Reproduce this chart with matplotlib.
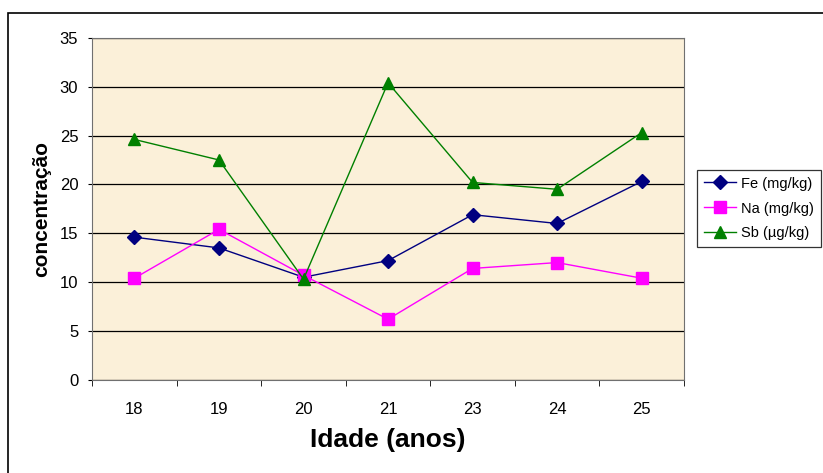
import numpy as np
import matplotlib.pyplot as plt
from matplotlib.patches import Rectangle

plt.rcParams['font.family'] = ['Liberation Sans', 'DejaVu Sans']

idade = ["18", "19", "20", "21", "23", "24", "25"]
fe = [14.6, 13.5, 10.5, 12.2, 16.9, 16.0, 20.3]
na = [10.4, 15.4, 10.7, 6.2, 11.4, 12.0, 10.4]
sb = [24.6, 22.5, 10.3, 30.4, 20.2, 19.5, 25.3]

fig = plt.figure(figsize=(8.23, 4.73), dpi=100)
ax = fig.add_axes([0.112, 0.197, 0.719, 0.723])
ax.set_facecolor("#FBF0D9")

x = np.arange(len(idade))
ax.plot(x, fe, color="#000080", marker="D", markersize=7, lw=1, label="Fe (mg/kg)")
ax.plot(x, na, color="#FF00FF", marker="s", markersize=8, lw=1, label="Na (mg/kg)")
ax.plot(x, sb, color="#008000", marker="^", markersize=9, lw=1, label="Sb (µg/kg)")

ax.set_xlim(-0.5, len(idade) - 0.5)
ax.set_ylim(0, 35)
ax.set_yticks(range(0, 36, 5))
ax.set_xticks(x)
ax.set_xticklabels(idade)
ax.set_xticks(np.arange(-0.5, len(idade), 1), minor=True)
ax.tick_params(axis="x", which="major", length=0, pad=16, labelsize=12)
ax.tick_params(axis="x", which="minor", length=4)
ax.tick_params(axis="y", length=3, pad=7, labelsize=12)
ax.yaxis.grid(True, color="black", lw=0.9)
ax.set_axisbelow(True)
for s in ["top", "right", "left", "bottom"]:
    ax.spines[s].set_color("#707070")

ax.set_xlabel("Idade (anos)", fontsize=19, fontweight="bold", labelpad=8)
ax.set_ylabel("concentração", fontsize=15, fontweight="bold", labelpad=6)

leg = ax.legend(loc="upper left", bbox_to_anchor=(697 / 823, 1 - 170 / 473),
                bbox_transform=fig.transFigure, fontsize=10.5, frameon=True,
                fancybox=False, edgecolor="black", borderaxespad=0,
                handlelength=2.2, handletextpad=0.4, labelspacing=0.75,
                borderpad=0.45)
leg.get_frame().set_linewidth(0.9)

fig.patches.append(Rectangle((8 / 823, -0.01), 1.0, 1 - 13 / 473 + 0.01,
                             transform=fig.transFigure, fill=False,
                             edgecolor="black", lw=1.2))

fig.savefig("out.png", dpi=100)
